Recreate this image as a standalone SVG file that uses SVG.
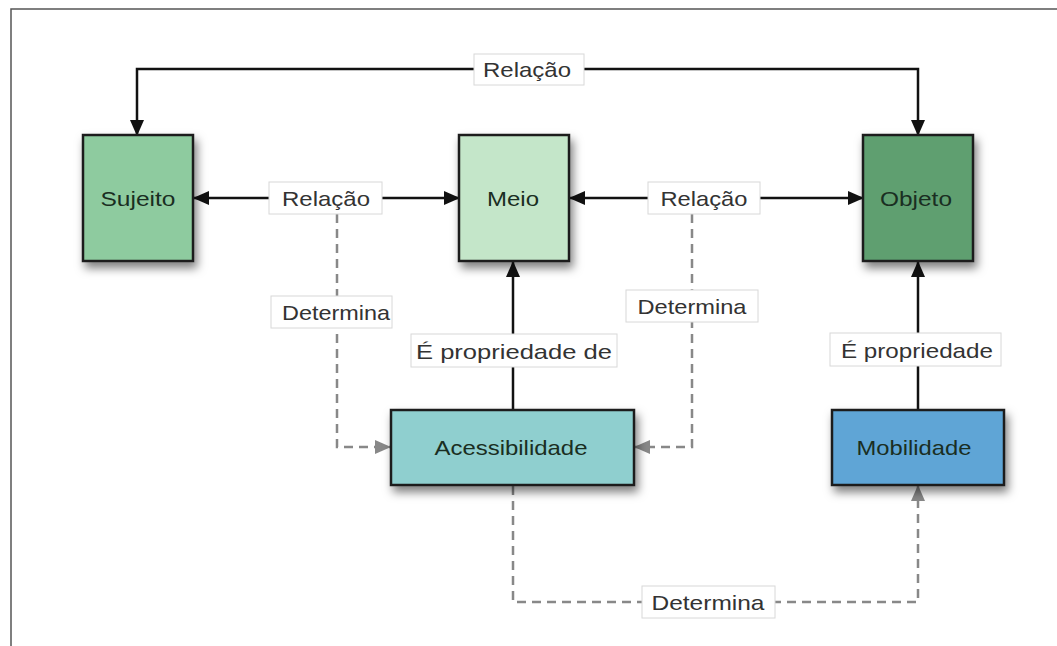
<svg xmlns="http://www.w3.org/2000/svg" width="1057" height="646" viewBox="0 0 1057 646">
<style>
.node{stroke:#1c1c1c;stroke-width:2.5;filter:url(#sh)}
.nt{font-family:"Liberation Sans",Arial,sans-serif;font-size:21px;fill:#1a2e22;text-anchor:middle;dominant-baseline:central}
.lt{font-family:"Liberation Sans",Arial,sans-serif;font-size:21px;fill:#333;text-anchor:middle;dominant-baseline:central}
.lb{fill:#fff;stroke:#d8d8d8;stroke-width:1}
.solid{fill:none;stroke:#111;stroke-width:2.5}
.dash{fill:none;stroke:#888;stroke-width:2.5;stroke-dasharray:9,6}
</style>
<defs>
<filter id="sh" x="-20%" y="-20%" width="150%" height="150%">
<feDropShadow dx="3" dy="6" stdDeviation="5" flood-color="#000" flood-opacity="0.5"/>
</filter>
<marker id="abs" markerWidth="16" markerHeight="16" refX="15" refY="8" orient="auto-start-reverse" markerUnits="userSpaceOnUse" viewBox="0 0 16 16">
<path d="M0,1 L16,8 L0,15 z" fill="#111"/>
</marker>
<marker id="ags" markerWidth="16" markerHeight="16" refX="15" refY="8" orient="auto" markerUnits="userSpaceOnUse" viewBox="0 0 16 16">
<path d="M0,1 L16,8 L0,15 z" fill="#888"/>
</marker>
</defs>
<rect width="1057" height="646" fill="#fff"/>
<path d="M11,646 L11,9 L1057,9" fill="none" stroke="#555" stroke-width="1.5"/>

<g id="connectors">
<path class="solid" d="M137,135 L137,69 L918,69 L918,135" marker-start="url(#abs)" marker-end="url(#abs)"/>
<path class="solid" d="M194,198 L459,198" marker-start="url(#abs)" marker-end="url(#abs)"/>
<path class="solid" d="M570,198 L863,198" marker-start="url(#abs)" marker-end="url(#abs)"/>
<path class="solid" d="M513,410 L513,262" marker-end="url(#abs)"/>
<path class="solid" d="M918,410 L918,262" marker-end="url(#abs)"/>
<path class="dash" d="M337,214 L337,447 L390,447" marker-end="url(#ags)"/>
<path class="dash" d="M692,214 L692,447 L635,447" marker-end="url(#ags)"/>
<path class="dash" d="M513,486 L513,602 L918,602 L918,486" marker-end="url(#ags)"/>

<g id="lbl-relacao-top"><rect class="lb" x="474" y="54" width="110" height="31"/><text class="lt" x="527" y="69" textLength="88" lengthAdjust="spacingAndGlyphs">Relação</text></g>
<g id="lbl-relacao-1"><rect class="lb" x="269" y="182" width="113" height="32"/><text class="lt" x="326" y="198" textLength="88" lengthAdjust="spacingAndGlyphs">Relação</text></g>
<g id="lbl-relacao-2"><rect class="lb" x="648" y="182" width="112" height="32"/><text class="lt" x="704" y="198" textLength="87" lengthAdjust="spacingAndGlyphs">Relação</text></g>
<g id="lbl-determina-1"><rect class="lb" x="271" y="296" width="121" height="32"/><text class="lt" x="336" y="312" textLength="108" lengthAdjust="spacingAndGlyphs">Determina</text></g>
<g id="lbl-determina-2"><rect class="lb" x="626" y="290" width="132" height="32"/><text class="lt" x="692" y="306" textLength="109" lengthAdjust="spacingAndGlyphs">Determina</text></g>
<g id="lbl-determina-3"><rect class="lb" x="642" y="586" width="133" height="32"/><text class="lt" x="708" y="602" textLength="113" lengthAdjust="spacingAndGlyphs">Determina</text></g>
<g id="lbl-prop-1"><rect class="lb" x="411" y="334" width="206" height="33"/><text class="lt" x="514" y="351" textLength="196" lengthAdjust="spacingAndGlyphs">É propriedade de</text></g>
<g id="lbl-prop-2"><rect class="lb" x="830" y="333" width="171" height="33"/><text class="lt" x="917" y="350" textLength="152" lengthAdjust="spacingAndGlyphs">É propriedade</text></g>
</g>

<g id="sujeito"><rect class="node" x="83" y="135" width="110" height="126" fill="#8ecb9f"/><text class="nt" x="138" y="198" textLength="75" lengthAdjust="spacingAndGlyphs">Sujeito</text></g>
<g id="meio"><rect class="node" x="459" y="135" width="110" height="126" fill="#c4e6c9"/><text class="nt" x="513" y="198" textLength="52" lengthAdjust="spacingAndGlyphs">Meio</text></g>
<g id="objeto"><rect class="node" x="863" y="135" width="110" height="126" fill="#5f9f70"/><text class="nt" x="916" y="198" textLength="72" lengthAdjust="spacingAndGlyphs">Objeto</text></g>
<g id="acessibilidade"><rect class="node" x="391" y="410" width="243" height="75" fill="#8fcfcf"/><text class="nt" x="511" y="447" textLength="153" lengthAdjust="spacingAndGlyphs">Acessibilidade</text></g>
<g id="mobilidade"><rect class="node" x="832" y="410" width="172" height="75" fill="#5fa5d6"/><text class="nt" x="914" y="447" fill="#15304a" textLength="115" lengthAdjust="spacingAndGlyphs">Mobilidade</text></g>
</svg>
